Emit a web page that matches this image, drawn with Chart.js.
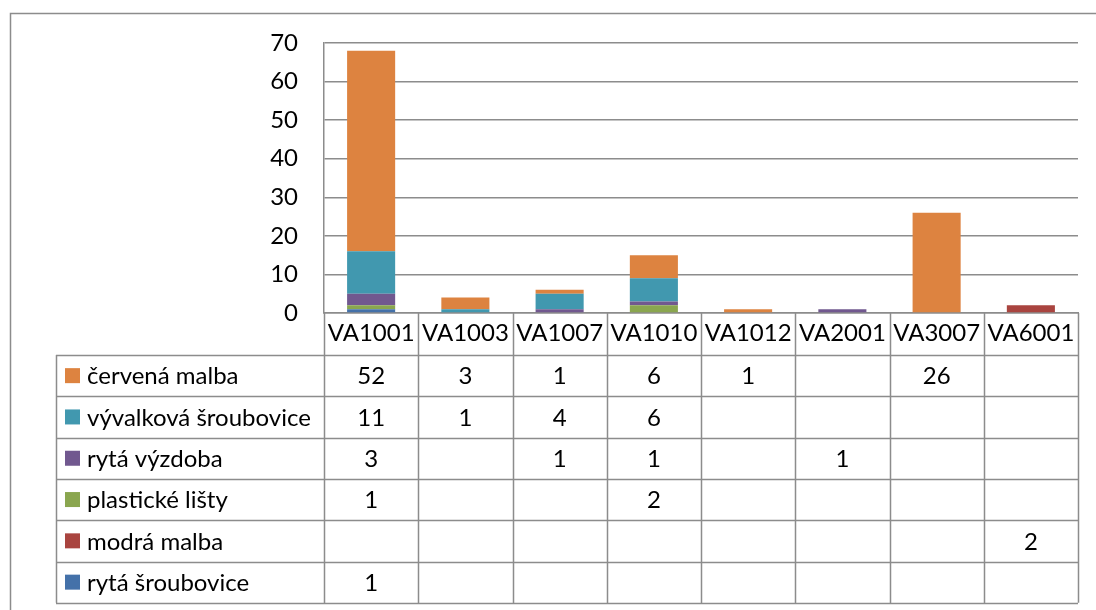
<!DOCTYPE html>
<html>
<head>
<meta charset="utf-8">
<script src="https://cdn.jsdelivr.net/npm/chart.js@4"></script>
<style>
html,body{margin:0;padding:0;background:#fff;}
#obal{width:1096px;height:610px;position:relative;}
</style>
</head>
<body>
<div id="obal"><canvas id="grafKeramika"></canvas></div>
<script>
// kategorie a hodnoty (prázdné buňky = null)
const kategorie = ['VA1001','VA1003','VA1007','VA1010','VA1012','VA2001','VA3007','VA6001'];
const cervenaMalba        = [52, 3, 1, 6, 1, null, 26, null];
const vyvalkovaSroubovice = [11, 1, 4, 6, null, null, null, null];
const rytaVyzdoba         = [3, null, 1, 1, null, 1, null, null];
const plastickeListy      = [1, null, null, 2, null, null, null, null];
const modraMalba          = [null, null, null, null, null, null, null, 2];
const rytaSroubovice      = [1, null, null, null, null, null, null, null];
const osaYMax = 70;
const osaYKrok = 10;

const pismo = 'Lato, "Open Sans", sans-serif';
const seda = '#8c8c8c';

// poradi odspodu nahoru
let serie = [
    { label: 'rytá šroubovice', data: rytaSroubovice, backgroundColor: '#4471a9' },
    { label: 'modrá malba', data: modraMalba, backgroundColor: '#a9443f' },
    { label: 'plastické lišty', data: plastickeListy, backgroundColor: '#8aa64f' },
    { label: 'rytá výzdoba', data: rytaVyzdoba, backgroundColor: '#71588f' },
    { label: 'vývalková šroubovice', data: vyvalkovaSroubovice, backgroundColor: '#4198af' },
    { label: 'červená malba', data: cervenaMalba, backgroundColor: '#dd8340' }
];

const ramecek = {
    id: 'ramecek',
    beforeDraw(chart) {
        let ctx = chart.ctx;
        ctx.save();
        ctx.fillStyle = '#fff';
        ctx.fillRect(0, 0, chart.width, chart.height);
        ctx.strokeStyle = seda;
        ctx.lineWidth = 1.5;
        ctx.strokeRect(10.5, 13.5, chart.width + 20, chart.height + 20);
        ctx.restore();
    }
};

const tabulka = {
    id: 'tabulka',
    afterDraw(chart) {
        let ctx = chart.ctx;
        let area = chart.chartArea;
        let x = chart.scales.x;
        let sirka = (area.right - area.left) / kategorie.length;
        let hlavaDole = area.bottom + 42;
        let radek = 41.3;
        let levy = 56;
        let n = serie.length;
        let spodek = hlavaDole + radek * n;

        ctx.save();
        ctx.strokeStyle = seda;
        ctx.lineWidth = 1.5;
        ctx.beginPath();
        // svisle cary
        for (let i = 0; i <= kategorie.length; i++) {
            let px = Math.round(area.left + i * sirka) + 0.5;
            ctx.moveTo(px, area.bottom);
            ctx.lineTo(px, spodek);
        }
        ctx.moveTo(levy + 0.5, hlavaDole);
        ctx.lineTo(levy + 0.5, spodek);
        // vodorovne cary
        for (let r = 0; r <= n; r++) {
            let py = Math.round(hlavaDole + r * radek) + 0.5;
            ctx.moveTo(levy, py);
            ctx.lineTo(area.right, py);
        }
        ctx.stroke();

        ctx.font = '24px ' + pismo;
        ctx.textBaseline = 'middle';
        for (let r = 0; r < n; r++) {
            let ds = chart.data.datasets[n - 1 - r];
            let stred = hlavaDole + r * radek + radek / 2;
            ctx.fillStyle = ds.backgroundColor;
            ctx.fillRect(65, stred - 7.5, 15, 15);
            ctx.fillStyle = '#000';
            ctx.textAlign = 'left';
            ctx.fillText(ds.label, 87, stred + 1);
            ctx.textAlign = 'center';
            ds.data.forEach(function(v, i) {
                if (v !== null) {
                    ctx.fillText(String(v), x.getPixelForValue(i), stred + 1);
                }
            });
        }
        ctx.restore();
    }
};

let ctx = document.getElementById('grafKeramika').getContext('2d');
let graf = new Chart(ctx, {
    type: 'bar',
    data: {
        labels: kategorie,
        datasets: serie
    },
    options: {
        responsive: true,
        maintainAspectRatio: false,
        animation: false,
        layout: { padding: { left: 0, top: 43, right: 18, bottom: 255 } },
        datasets: {
            bar: { barPercentage: 0.51, categoryPercentage: 1, borderWidth: 0 }
        },
        plugins: {
            legend: { display: false },
            tooltip: { enabled: false }
        },
        scales: {
            x: {
                stacked: true,
                grid: { display: false, drawTicks: false },
                border: { display: true, color: seda, width: 1.5 },
                ticks: { color: '#000', font: { family: pismo, size: 24 }, padding: 6, maxRotation: 0 },
                afterFit: function(scale) { scale.height = 42; }
            },
            y: {
                stacked: true,
                min: 0,
                max: osaYMax,
                grid: { color: seda, lineWidth: 1.5, drawTicks: false },
                border: { display: true, color: seda, width: 1.5 },
                ticks: { stepSize: osaYKrok, color: '#000', font: { family: pismo, size: 24 }, padding: 26 },
                afterFit: function(scale) { scale.width = 324; }
            }
        }
    },
    plugins: [ramecek, tabulka]
});
</script>
</body>
</html>
